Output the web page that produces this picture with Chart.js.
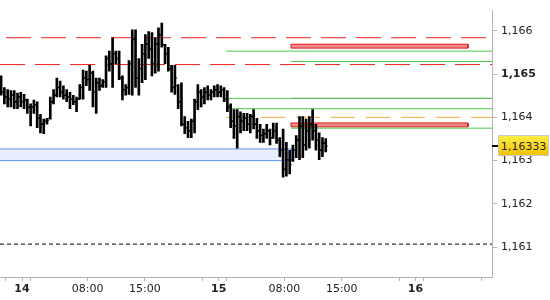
<!DOCTYPE html>
<html>
<head>
<meta charset="utf-8">
<script src="https://cdn.jsdelivr.net/npm/chart.js@4.4.0/dist/chart.umd.min.js"></script>
<style>
  html, body { margin: 0; padding: 0; background: #fff; }
  #wrap { width: 550px; height: 300px; }
</style>
</head>
<body>
<div id="wrap"><canvas id="myChart" width="550" height="300"></canvas></div>
<script>
'use strict';

// OHLC bars, x is hours counted from the 13th 00:00
const firstBar = 21.45;
const barHours = 0.4;

const opens = [
  1.16480, 1.16458, 1.16447, 1.16442, 1.16451, 1.16436, 1.16447, 1.16436, 1.16440, 1.16424,
  1.16424, 1.16429, 1.16398, 1.16384, 1.16391, 1.16398, 1.16436, 1.16451, 1.16469, 1.16458,
  1.16451, 1.16447, 1.16442, 1.16436, 1.16442, 1.16469, 1.16491, 1.16487, 1.16502, 1.16458,
  1.16480, 1.16473, 1.16482, 1.16536, 1.16524, 1.16547, 1.16536, 1.16491, 1.16464, 1.16469,
  1.16524, 1.16580, 1.16491, 1.16513, 1.16547, 1.16569, 1.16558, 1.16524, 1.16569, 1.16591,
  1.16567, 1.16547, 1.16513, 1.16469, 1.16473, 1.16436, 1.16384, 1.16376, 1.16369, 1.16391,
  1.16436, 1.16458, 1.16447, 1.16458, 1.16451, 1.16458, 1.16464, 1.16458, 1.16464, 1.16442,
  1.16424, 1.16391, 1.16380, 1.16402, 1.16391, 1.16398, 1.16384, 1.16402, 1.16384, 1.16369,
  1.16358, 1.16362, 1.16369, 1.16353, 1.16369, 1.16347, 1.16324, 1.16280, 1.16302, 1.16302,
  1.16324, 1.16347, 1.16380, 1.16336, 1.16369, 1.16384, 1.16369, 1.16347, 1.16324, 1.16340
];
const highs = [
  1.16496, 1.16469, 1.16464, 1.16462, 1.16462, 1.16456, 1.16458, 1.16453, 1.16442, 1.16431,
  1.16440, 1.16436, 1.16407, 1.16396, 1.16398, 1.16447, 1.16464, 1.16491, 1.16484, 1.16473,
  1.16464, 1.16458, 1.16451, 1.16447, 1.16476, 1.16509, 1.16507, 1.16520, 1.16507, 1.16491,
  1.16491, 1.16487, 1.16542, 1.16553, 1.16584, 1.16553, 1.16553, 1.16496, 1.16476, 1.16531,
  1.16602, 1.16602, 1.16536, 1.16569, 1.16591, 1.16598, 1.16596, 1.16584, 1.16607, 1.16618,
  1.16569, 1.16562, 1.16520, 1.16520, 1.16476, 1.16480, 1.16402, 1.16391, 1.16396, 1.16442,
  1.16476, 1.16464, 1.16469, 1.16473, 1.16464, 1.16473, 1.16476, 1.16473, 1.16469, 1.16462,
  1.16431, 1.16418, 1.16418, 1.16413, 1.16409, 1.16409, 1.16407, 1.16418, 1.16398, 1.16384,
  1.16373, 1.16384, 1.16373, 1.16387, 1.16387, 1.16353, 1.16373, 1.16342, 1.16324, 1.16336,
  1.16358, 1.16402, 1.16402, 1.16396, 1.16402, 1.16418, 1.16384, 1.16364, 1.16353, 1.16351
];
const lows = [
  1.16451, 1.16431, 1.16424, 1.16424, 1.16420, 1.16420, 1.16424, 1.16420, 1.16409, 1.16380,
  1.16409, 1.16376, 1.16364, 1.16362, 1.16384, 1.16396, 1.16431, 1.16447, 1.16447, 1.16442,
  1.16436, 1.16420, 1.16429, 1.16413, 1.16442, 1.16442, 1.16473, 1.16462, 1.16424, 1.16409,
  1.16462, 1.16469, 1.16469, 1.16507, 1.16469, 1.16524, 1.16487, 1.16440, 1.16451, 1.16453,
  1.16451, 1.16469, 1.16451, 1.16480, 1.16487, 1.16536, 1.16496, 1.16502, 1.16507, 1.16562,
  1.16524, 1.16507, 1.16458, 1.16453, 1.16420, 1.16380, 1.16362, 1.16353, 1.16353, 1.16364,
  1.16418, 1.16424, 1.16431, 1.16440, 1.16440, 1.16447, 1.16447, 1.16447, 1.16436, 1.16413,
  1.16376, 1.16351, 1.16329, 1.16364, 1.16369, 1.16369, 1.16364, 1.16373, 1.16351, 1.16342,
  1.16342, 1.16351, 1.16336, 1.16351, 1.16340, 1.16309, 1.16262, 1.16264, 1.16269, 1.16298,
  1.16307, 1.16302, 1.16307, 1.16324, 1.16329, 1.16347, 1.16324, 1.16302, 1.16309, 1.16320
];
const closes = [
  1.16458, 1.16447, 1.16442, 1.16451, 1.16436, 1.16447, 1.16436, 1.16440, 1.16424, 1.16424,
  1.16429, 1.16398, 1.16384, 1.16391, 1.16393, 1.16436, 1.16451, 1.16469, 1.16458, 1.16451,
  1.16447, 1.16442, 1.16436, 1.16442, 1.16469, 1.16491, 1.16487, 1.16502, 1.16458, 1.16480,
  1.16473, 1.16482, 1.16536, 1.16524, 1.16547, 1.16536, 1.16491, 1.16464, 1.16469, 1.16524,
  1.16580, 1.16491, 1.16513, 1.16547, 1.16569, 1.16558, 1.16524, 1.16569, 1.16591, 1.16569,
  1.16547, 1.16513, 1.16469, 1.16491, 1.16436, 1.16384, 1.16376, 1.16369, 1.16391, 1.16436,
  1.16458, 1.16447, 1.16458, 1.16451, 1.16458, 1.16464, 1.16458, 1.16464, 1.16442, 1.16424,
  1.16391, 1.16380, 1.16402, 1.16391, 1.16398, 1.16384, 1.16402, 1.16384, 1.16369, 1.16358,
  1.16362, 1.16369, 1.16353, 1.16369, 1.16347, 1.16324, 1.16280, 1.16302, 1.16291, 1.16324,
  1.16347, 1.16380, 1.16336, 1.16369, 1.16384, 1.16369, 1.16347, 1.16324, 1.16340, 1.16333
];

// axes
const xTickValues = [22, 24, 25, 32, 39, 46, 48, 49, 56, 63, 70, 72, 73, 80];
const xTickLabels = ['', '14', '', '08:00', '15:00', '', '15', '', '08:00', '15:00', '', '16', '', ''];
const yTickValues = [1.161, 1.162, 1.163, 1.164, 1.165, 1.166];
const xMin = 21.316, xMax = 81.33;
const yMin = 1.16031, yMax = 1.166467;

// drawn levels (price, start hour)
const redDashPrices = [1.16584, 1.16522];
const greenPrices = [1.16553, 1.16529, 1.16444, 1.16420, 1.16375];
const greenFrom = [48.88, 56.81, 48.88, 48.88, 56.81];
const grayPrices = [1.16444];
const grayFrom = [56.81];
const orangePrice = 1.16400, orangeFrom = 48.88;
const redZones = [[1.16560, 1.16569], [1.16378, 1.16387]];
const redZoneFrom = 56.81, redZoneTo = 78.40;
const blueZone = [1.16300, 1.16327];
const blueZoneTo = 56.93;
const supportPrice = 1.16107;

const FONT = 'DejaVu Sans';
const times = opens.map((o, i) => firstBar + i * barHours);

function fmt(v, d) {
  return v.toFixed(d).replace('.', ',');
}

function hline(price, from, to, color, dash, offset) {
  return {
    type: 'line',
    data: [{x: from, y: price}, {x: to, y: price}],
    borderColor: color,
    borderWidth: 1,
    borderDash: dash || [],
    borderDashOffset: offset || 0,
    pointRadius: 0,
    fill: false,
    order: 2
  };
}

function zone(lo, hi, from, to, fillColor, lineColor) {
  return {
    type: 'line',
    data: [{x: from, y: hi}, {x: to, y: hi}, {x: to, y: lo}, {x: from, y: lo}, {x: from, y: hi}],
    borderColor: lineColor,
    backgroundColor: fillColor,
    borderWidth: 1,
    pointRadius: 0,
    fill: 'shape',
    order: 3
  };
}

let datasets = [];
datasets.push({
  type: 'bar',
  data: times.map((t, i) => ({x: t, y: [lows[i], highs[i]]})),
  backgroundColor: '#000',
  barThickness: 2,
  grouped: false,
  order: 0
});

datasets.push(zone(blueZone[0], blueZone[1], xMin - 1, blueZoneTo, '#e8eefd', '#5d90f0'));
redZones.forEach(z => datasets.push(zone(z[0], z[1], redZoneFrom, redZoneTo, '#f28c8c', '#e41414')));
datasets.push(hline(redDashPrices[0], xMin, xMax, '#f02020', [25, 10], 29));
datasets.push(hline(redDashPrices[1], xMin, xMax, '#f02020', [25, 10], 0));
for (let i = 0; i < greenPrices.length; i++) {
  datasets.push(hline(greenPrices[i], greenFrom[i], xMax + 1, '#4cc84c'));
}
for (let i = 0; i < grayPrices.length; i++) {
  datasets.push(hline(grayPrices[i], grayFrom[i], xMax + 1, '#a4aca4'));
}
datasets.push(hline(orangePrice, orangeFrom, xMax + 1, '#f0ac3c', [24, 11], 0));
datasets.push(hline(supportPrice, xMin, xMax, '#000', [4, 3], 0));

// open / close ticks on every bar
const ohlcTicks = {
  id: 'ohlcTicks',
  afterDatasetsDraw(chart) {
    const {ctx, chartArea, scales: {x, y}} = chart;
    ctx.save();
    ctx.beginPath();
    ctx.rect(chartArea.left, chartArea.top, chartArea.width, chartArea.height);
    ctx.clip();
    ctx.strokeStyle = '#000';
    ctx.lineWidth = 1.5;
    for (let i = 0; i < times.length; i++) {
      const px = x.getPixelForValue(times[i]);
      const yo = y.getPixelForValue(opens[i]);
      const yc = y.getPixelForValue(closes[i]);
      ctx.beginPath();
      ctx.moveTo(px - 1.8, yo);
      ctx.lineTo(px, yo);
      ctx.moveTo(px, yc);
      ctx.lineTo(px + 1.8, yc);
      ctx.stroke();
    }
    ctx.restore();
  }
};

// yellow box with the last price
const lastPrice = {
  id: 'lastPrice',
  afterDraw(chart) {
    const {ctx, chartArea, scales: {y}} = chart;
    const v = closes[closes.length - 1];
    const py = Math.round(y.getPixelForValue(v));
    ctx.save();
    ctx.fillStyle = '#000';
    ctx.fillRect(chartArea.right, py - 1, 6, 2);
    const bx = chartArea.right + 6, by = py - 11, bw = 51, bh = 21;
    const g = ctx.createLinearGradient(0, by, 0, by + bh);
    g.addColorStop(0, '#fff04a');
    g.addColorStop(1, '#f0c200');
    ctx.fillStyle = g;
    ctx.fillRect(bx, by, bw, bh);
    ctx.strokeStyle = '#c9c9c9';
    ctx.lineWidth = 1;
    ctx.strokeRect(bx + 0.5, by + 0.5, bw - 1, bh - 1);
    ctx.fillStyle = '#222';
    ctx.font = '11px "' + FONT + '"';
    ctx.textBaseline = 'middle';
    ctx.fillText(fmt(v, 5), bx + 3, py + 1);
    ctx.restore();
  }
};

const ctx = document.getElementById('myChart').getContext('2d');
const myChart = new Chart(ctx, {
  type: 'bar',
  data: { datasets: datasets },
  plugins: [ohlcTicks, lastPrice],
  options: {
    responsive: false,
    animation: false,
    layout: { padding: 0 },
    plugins: {
      legend: { display: false },
      tooltip: { enabled: false }
    },
    scales: {
      x: {
        type: 'linear',
        min: xMin,
        max: xMax,
        offset: false,
        bounds: 'data',
        afterBuildTicks: s => { s.ticks = xTickValues.map(v => ({value: v})); },
        afterFit: s => { s.height = 23; },
        grid: { drawOnChartArea: false, tickLength: 4, color: '#b4b4b4', offset: false },
        border: { color: '#b4b4b4' },
        ticks: {
          autoSkip: false,
          maxRotation: 0,
          padding: 2,
          color: '#222',
          callback: v => xTickLabels[xTickValues.indexOf(v)] || '',
          font: c => {
            const lab = xTickLabels[xTickValues.indexOf(c.tick ? c.tick.value : -1)] || '';
            return { family: FONT, size: 11, weight: lab.length === 2 ? 'bold' : 'normal' };
          }
        }
      },
      y: {
        position: 'right',
        min: yMin,
        max: yMax,
        bounds: 'data',
        afterBuildTicks: s => { s.ticks = yTickValues.map(v => ({value: v})); },
        afterFit: s => { s.width = 58; },
        grid: { drawOnChartArea: false, tickLength: 5, color: '#b4b4b4' },
        border: { color: '#b4b4b4' },
        ticks: {
          padding: 4,
          color: '#222',
          callback: v => fmt(v, 3),
          font: c => ({
            family: FONT,
            size: 11,
            weight: c.tick && Math.abs(c.tick.value - 1.165) < 1e-9 ? 'bold' : 'normal'
          })
        }
      }
    }
  }
});
</script>
</body>
</html>
